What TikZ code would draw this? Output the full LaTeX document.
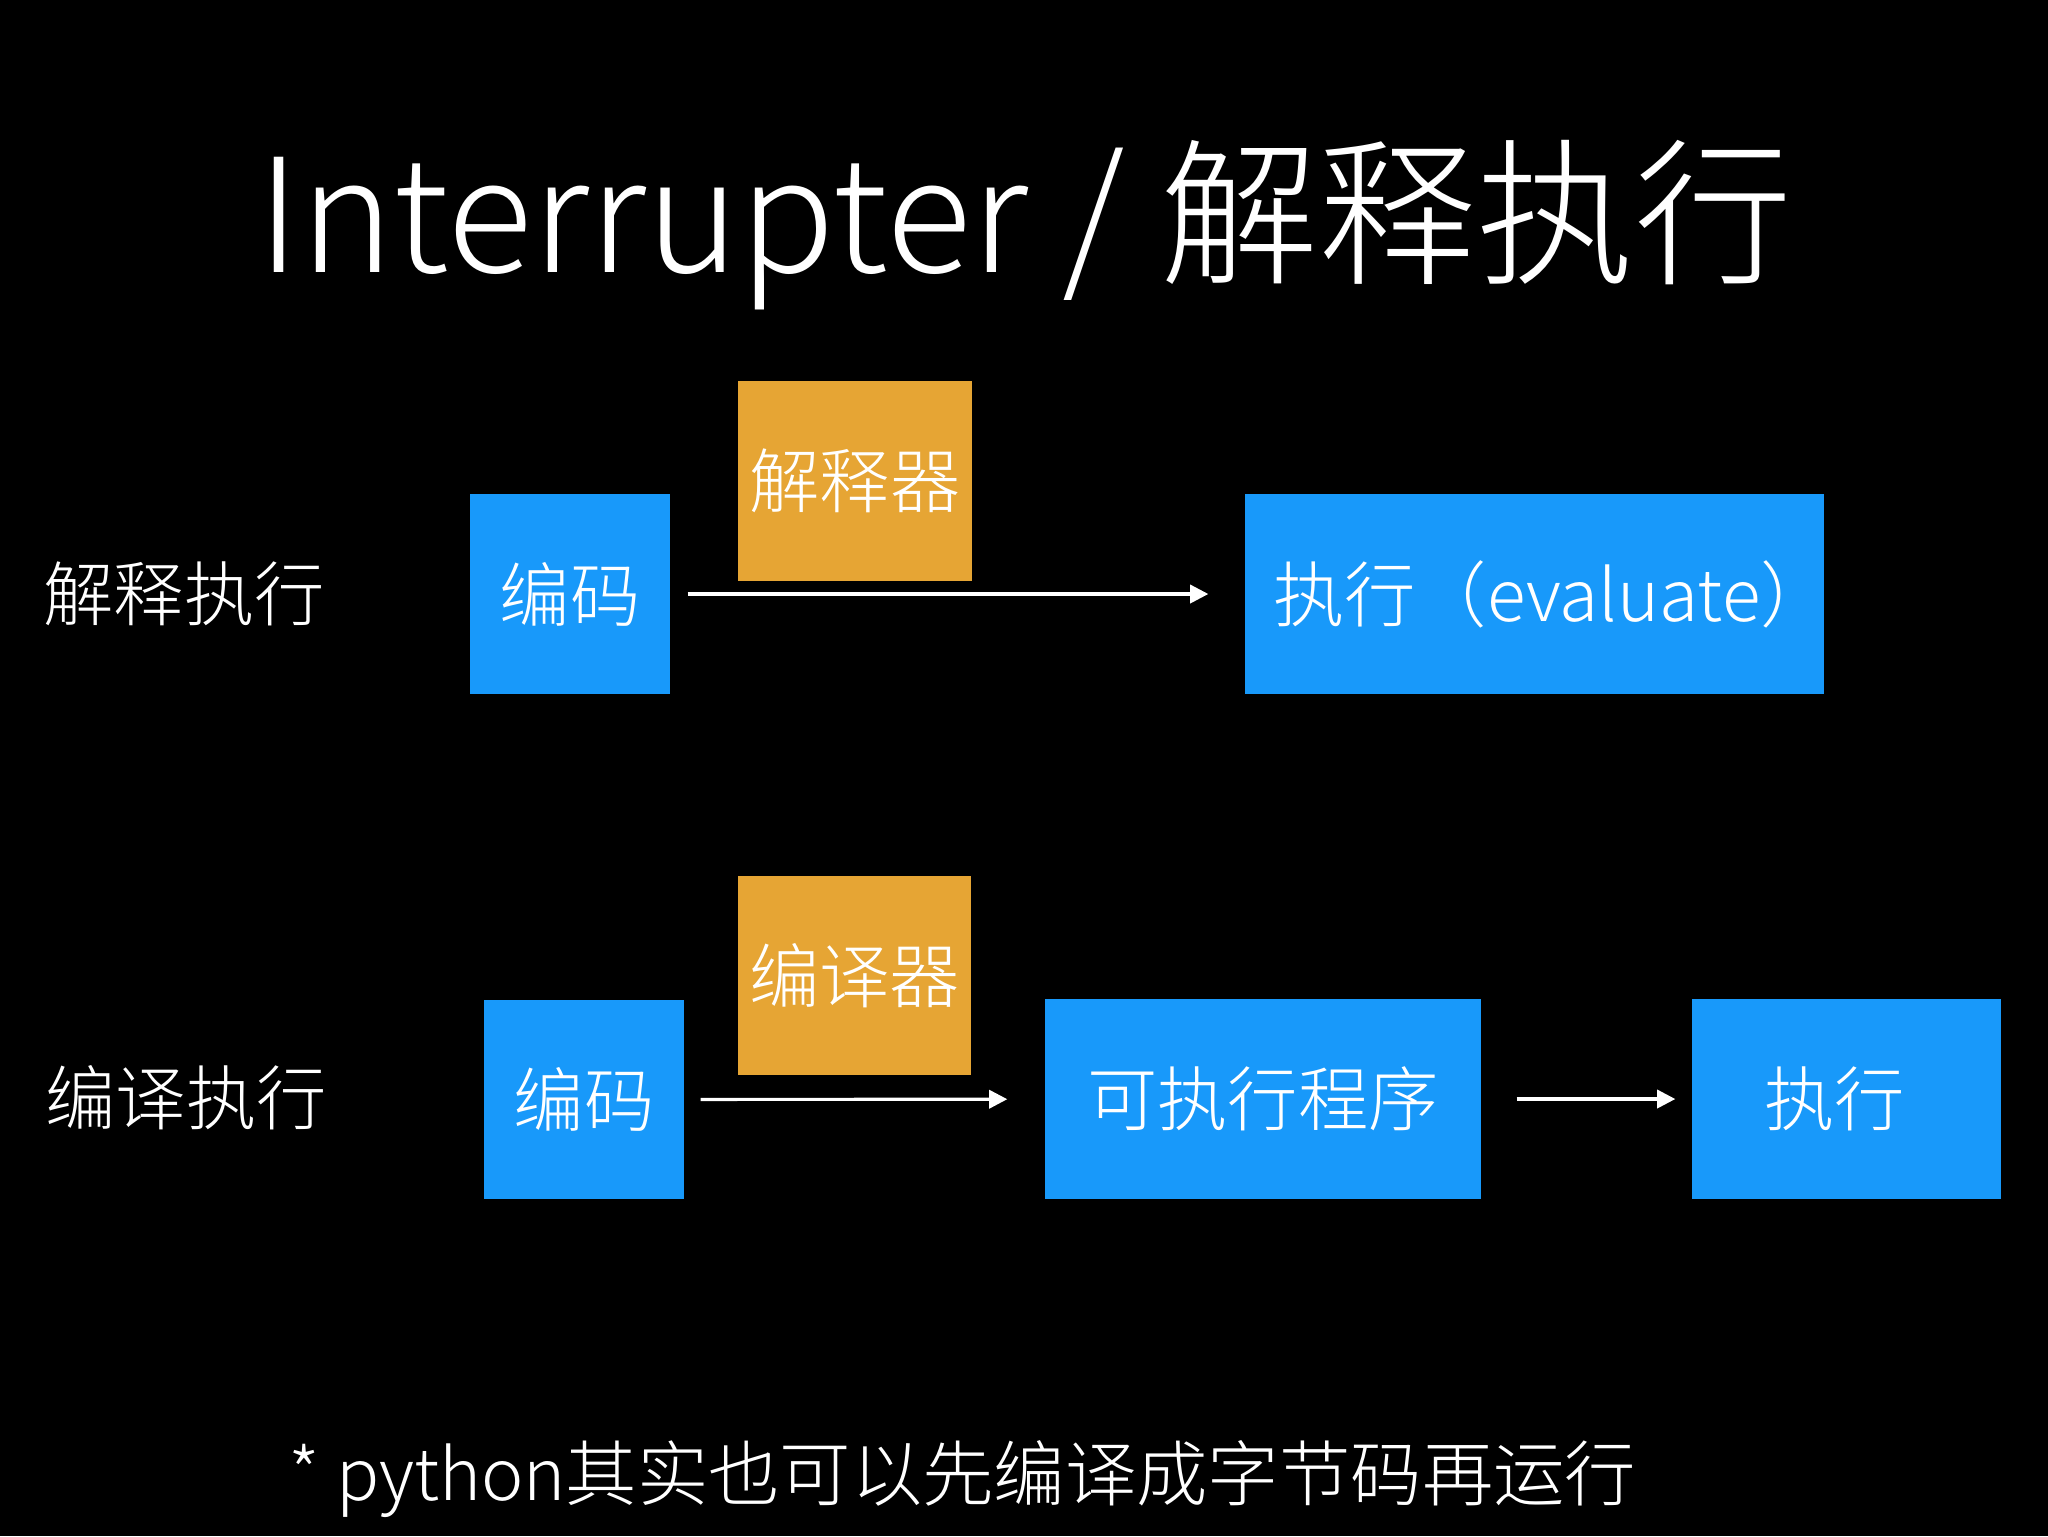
\documentclass[tikz,border=0pt]{standalone}
\usepackage{fontspec}
\setmainfont{Noto Sans CJK SC Light}
\usetikzlibrary{arrows.meta}
\definecolor{kblue}{RGB}{24,153,250}
\definecolor{korange}{RGB}{230,165,52}
\tikzset{
  box/.style={rectangle, inner sep=0pt, text=white, font=\fontsize{20}{24}\selectfont},
  bluebox/.style={box, fill=kblue},
  orangebox/.style={box, fill=korange},
  lbl/.style={text=white, inner sep=0pt, anchor=west, font=\fontsize{20}{24}\selectfont},
  arr/.style={draw=white, line width=0.9pt, -{Triangle[length=5.2pt,width=5.2pt]}}
}
\begin{document}
\begin{tikzpicture}[x=0.1mm,y=-0.1mm]
\fill[black] (0,0) rectangle (2048,1536);
\useasboundingbox (0,0) rectangle (2048,1536);

\node[text=white, inner sep=0pt, font=\fontsize{45}{54}\selectfont] (title) at (1025,225) {Interrupter / 解释执行};

% row 1
\node[lbl] (l1) at (43,594) {解释执行};
\node[bluebox, minimum width=20mm, minimum height=20mm] (code1) at (570,594) {编码};
\node[orangebox, minimum width=23.4mm, minimum height=20mm] (interp) at (855,481) {解释器};
\node[bluebox, minimum width=57.9mm, minimum height=20mm, font=\fontsize{20.3}{24}\selectfont] (eval) at (1534.5,594) {\makebox[0pt]{\hspace*{3.6mm}执行（evaluate）}};
\draw[arr, shorten <=1.7mm, shorten >=3.6mm] (code1) -- (eval);

% row 2
\node[lbl] (l2) at (45,1098) {编译执行};
\node[bluebox, minimum width=20mm, minimum height=19.9mm] (code2) at (584,1099.5) {编码};
\node[orangebox, minimum width=23.3mm, minimum height=19.9mm] (comp) at (854.5,975.5) {编译器};
\node[bluebox, minimum width=43.6mm, minimum height=20mm] (prog) at (1263,1099) {可执行程序};
\node[bluebox, minimum width=30.9mm, minimum height=20mm] (exec) at (1846.5,1099) {执行\hspace*{2.4mm}};
\draw[arr, shorten <=1.6mm, shorten >=3.7mm] (code2) -- (prog);
\draw[arr, shorten <=3.5mm, shorten >=1.6mm] (prog) -- (exec);

% footer
\node[lbl, font=\fontsize{20.3}{24}\selectfont] (foot) at (288,1479) {* python其实也可以先编译成字节码再运行};
\end{tikzpicture}
\end{document}
